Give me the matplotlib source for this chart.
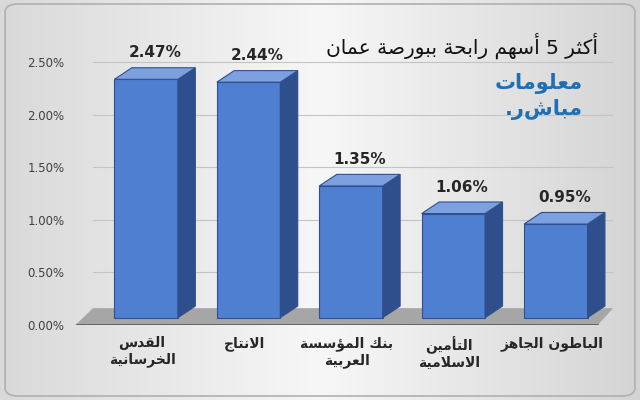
import numpy as np
import matplotlib
matplotlib.use("Agg")
import matplotlib.pyplot as plt
from matplotlib.patches import Polygon, FancyBboxPatch

# --- minimal Arabic shaping (matplotlib has no bidi/joining support) ---
FORMS = {
    'ا': (0xFE8D, 0xFE8E, None, None), 'أ': (0xFE83, 0xFE84, None, None),
    'ب': (0xFE8F, 0xFE90, 0xFE91, 0xFE92), 'ة': (0xFE93, 0xFE94, None, None),
    'ت': (0xFE95, 0xFE96, 0xFE97, 0xFE98), 'ث': (0xFE99, 0xFE9A, 0xFE9B, 0xFE9C),
    'ج': (0xFE9D, 0xFE9E, 0xFE9F, 0xFEA0), 'ح': (0xFEA1, 0xFEA2, 0xFEA3, 0xFEA4),
    'خ': (0xFEA5, 0xFEA6, 0xFEA7, 0xFEA8), 'د': (0xFEA9, 0xFEAA, None, None),
    'ر': (0xFEAD, 0xFEAE, None, None), 'ز': (0xFEAF, 0xFEB0, None, None),
    'س': (0xFEB1, 0xFEB2, 0xFEB3, 0xFEB4), 'ص': (0xFEB9, 0xFEBA, 0xFEBB, 0xFEBC),
    'ط': (0xFEC1, 0xFEC2, 0xFEC3, 0xFEC4), 'ع': (0xFEC9, 0xFECA, 0xFECB, 0xFECC),
    'ق': (0xFED5, 0xFED6, 0xFED7, 0xFED8), 'ك': (0xFED9, 0xFEDA, 0xFEDB, 0xFEDC),
    'ل': (0xFEDD, 0xFEDE, 0xFEDF, 0xFEE0), 'م': (0xFEE1, 0xFEE2, 0xFEE3, 0xFEE4),
    'ن': (0xFEE5, 0xFEE6, 0xFEE7, 0xFEE8), 'ه': (0xFEE9, 0xFEEA, 0xFEEB, 0xFEEC),
    'و': (0xFEED, 0xFEEE, None, None), 'ؤ': (0xFE85, 0xFE86, None, None),
    'ي': (0xFEF1, 0xFEF2, 0xFEF3, 0xFEF4),
    'ﻻ': (0xFEFB, 0xFEFC, None, None), 'ﻷ': (0xFEF7, 0xFEF8, None, None),
}


def shape_word(word):
    word = word.replace('لا', 'ﻻ').replace('لأ', 'ﻷ')
    out = []
    for i, ch in enumerate(word):
        if ch not in FORMS:
            out.append(ch)
            continue
        prev = word[i - 1] if i > 0 else None
        nxt = word[i + 1] if i + 1 < len(word) else None
        join_prev = prev in FORMS and FORMS[prev][2] is not None
        join_next = nxt in FORMS and FORMS[ch][2] is not None
        iso, fin, ini, med = FORMS[ch]
        if join_prev and join_next:
            code = med
        elif join_prev:
            code = fin
        elif join_next:
            code = ini
        else:
            code = iso
        out.append(chr(code))
    return ''.join(out)


def ar(text):
    lines = []
    for line in text.split('\n'):
        words = [shape_word(w) for w in line.split(' ')]
        lines.append(' '.join(words)[::-1])
    return '\n'.join(lines)


# --- data ---
companies = ['القدس\nالخرسانية', 'الانتاج', 'بنك المؤسسة\nالعربية', 'التأمين\nالاسلامية', 'الباطون الجاهز']
gains = [2.47, 2.44, 1.35, 1.06, 0.95]
value_labels = ['2.47%', '2.44%', '1.35%', '1.06%', '0.95%']
title = 'أكثر 5 أسهم رابحة ببورصة عمان'

plt.rcParams['font.family'] = ['DejaVu Sans']

fig = plt.figure(figsize=(6.4, 4.0), dpi=100)

# background gradient
bg = fig.add_axes([0, 0, 1, 1], zorder=-10)
grad = np.linspace(0, 1, 256)
img = np.outer(np.ones(10), grad)
bg.imshow(img, aspect='auto', cmap=matplotlib.colors.LinearSegmentedColormap.from_list(
    'g', ['#d9d9d9', '#f7f7f7', '#d4d4d4']), extent=[0, 1, 0, 1])
bg.add_patch(FancyBboxPatch((0.008, 0.01), 0.984, 0.98, boxstyle='round,pad=0,rounding_size=0.02',
                            fill=False, ec='#b0b0b0', lw=1.2, transform=bg.transAxes))
bg.set_xlim(0, 1)
bg.set_ylim(0, 1)
bg.axis('off')

# 0% at y=325px, 2.5% at y=62px
ax = fig.add_axes([0.118, 0.1875, 0.84, 0.6575 * 2.75 / 2.5])
ax.patch.set_alpha(0)
x = np.arange(len(gains))
w = 0.62
dx, dy = 0.17, 0.11
ax.set_xlim(-0.55, len(gains) - 0.3)
ax.set_ylim(0, 2.75)

for yv in np.arange(0.5, 2.51, 0.5):
    ax.plot([-0.55 + dx, len(gains) - 0.3], [yv, yv], color='#c4c4c4', lw=0.8, zorder=0)

# floor
ax.add_patch(Polygon([[-0.55, 0], [len(gains) - 0.45, 0], [len(gains) - 0.3, dy + 0.05], [-0.55 + dx, dy + 0.05]],
                     closed=True, fc='#a6a6a6', ec='none', zorder=1, clip_on=False))
ax.plot([-0.55, len(gains) - 0.45], [0, 0], color='#595959', lw=1.2, zorder=2)

for xi, g, lab in zip(x, gains, value_labels):
    left = xi - w / 2 + 0.14
    b0 = 0.07
    # perspective: front face projects a little lower than the back wall scale
    top = g * 0.905 + 0.1
    back = top + dy
    ax.add_patch(Polygon([[left, b0], [left + w, b0], [left + w, top], [left, top]],
                         fc='#4f7fd1', ec='#2f4f8f', lw=0.8, zorder=3))
    ax.add_patch(Polygon([[left + w, b0], [left + w + dx, b0 + dy], [left + w + dx, back], [left + w, top]],
                         fc='#2e4f8c', ec='#2f4f8f', lw=0.8, zorder=3))
    ax.add_patch(Polygon([[left, top], [left + w, top], [left + w + dx, back], [left + dx, back]],
                         fc='#7da1e0', ec='#2f4f8f', lw=0.8, zorder=3))
    ax.text(left + (w + dx) / 2, back + 0.07, lab, ha='center', va='bottom', fontsize=11,
            fontweight='bold', color='#262626')

ax.set_yticks(np.arange(0, 2.51, 0.5))
ax.set_yticklabels(['%.2f%%' % v for v in np.arange(0, 2.51, 0.5)], fontsize=8.5, color='#404040')
ax.set_xticks(x + 0.1)
ax.set_xticklabels([ar(c) for c in companies], fontsize=10, fontweight='bold', color='#262626')
ax.tick_params(length=0, pad=8)
for s in ax.spines.values():
    s.set_visible(False)

fig.text(0.935, 0.885, ar(title), ha='right', va='center', fontsize=14.5, color='#111111')
fig.text(0.91, 0.79, ar('معلومات'), ha='right', va='center', fontsize=15,
         fontweight='bold', color='#1f6fb5')
fig.text(0.91, 0.725, '.' + ar('مباشر'), ha='right', va='center', fontsize=15,
         fontweight='bold', color='#1f6fb5')

fig.savefig('out.png', dpi=100)
